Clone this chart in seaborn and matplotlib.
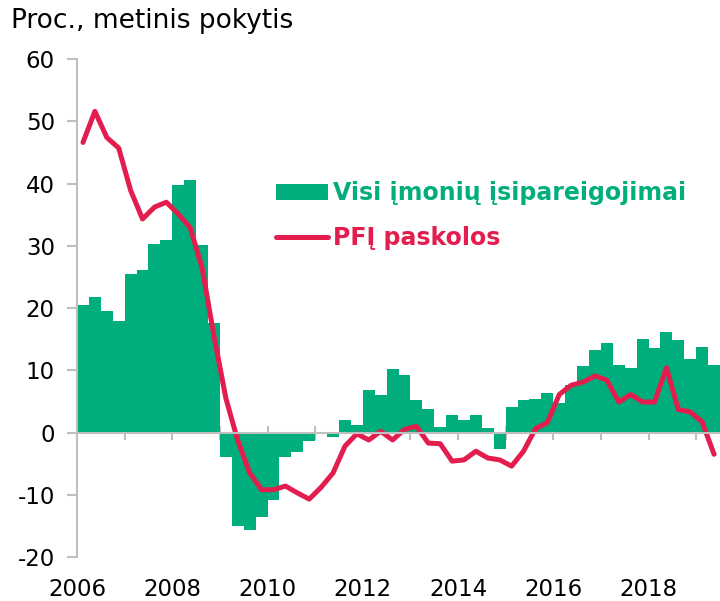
import numpy as np
import pandas as pd
import matplotlib
matplotlib.use("Agg")
import matplotlib.pyplot as plt
import seaborn as sns

sns.set_style("white")
plt.rcParams["font.family"] = ["DejaVu Sans"]
plt.rcParams["axes.unicode_minus"] = False

# Quarterly data, 2006Q1 - 2019Q2
quarters = pd.period_range("2006Q1", "2019Q2", freq="Q")

liabilities = [20.5, 21.8, 19.6, 17.9, 25.4, 26.1, 30.3, 31.0, 39.7, 40.6, 30.2, 17.6,
               -3.9, -15.0, -15.7, -13.6, -10.8, -3.9, -3.2, -1.3, 0.0, -0.8, 2.0, 1.2,
               6.9, 6.0, 10.2, 9.2, 5.2, 3.7, 0.9, 2.8, 2.0, 2.8, 0.7, -2.6,
               4.1, 5.2, 5.4, 6.4, 4.8, 7.6, 10.7, 13.3, 14.4, 10.9, 10.4, 15.1,
               13.5, 16.2, 14.8, 11.8, 13.7, 10.8]

mfi_loans = [46.6, 51.6, 47.4, 45.7, 38.9, 34.3, 36.2, 37.0, 35.1, 32.9, 26.5, 15.5,
             5.5, -1.3, -6.5, -9.2, -9.2, -8.6, -9.7, -10.7, -8.8, -6.5, -2.2, -0.2,
             -1.2, 0.2, -1.2, 0.5, 1.0, -1.7, -1.8, -4.6, -4.4, -3.0, -4.1, -4.4,
             -5.4, -3.0, 0.6, 1.6, 6.1, 7.6, 8.1, 9.1, 8.4, 4.9, 6.1, 4.9,
             4.9, 10.4, 3.7, 3.3, 1.7, -3.5]

year_ticks = list(range(2006, 2020))
label_bars = "Visi įmonių įsipareigojimai"
label_line = "PFĮ paskolos"

green = "#00AE7D"
red = "#E31E4F"
gray = "#BFBFBF"

df = pd.DataFrame({
    "t": quarters.year + (quarters.quarter - 1) / 4 + 0.125,
    "liab": liabilities,
    "loans": mfi_loans,
})

fig = plt.figure(figsize=(7.2, 6.01), dpi=100)
ax = fig.add_axes([0.107, 0.0732, 0.893, 0.8286])

sns.barplot(data=df, x="t", y="liab", native_scale=True, width=1, color=green,
            saturation=1, linewidth=0, errorbar=None, label=label_bars, ax=ax)
sns.lineplot(data=df, x="t", y="loans", color=red, linewidth=3.6,
             solid_capstyle="round", solid_joinstyle="round", label=label_line, ax=ax)

ax.set_xlim(2006, 2019.5)
ax.set_ylim(-20, 60)
ax.set_yticks(range(-20, 61, 10))
ax.set_xticks(year_ticks)
ax.set_xticklabels([str(y) if y % 2 == 0 else "" for y in year_ticks])
ax.set_xlabel("")
ax.set_ylabel("")

for s in ["top", "right"]:
    ax.spines[s].set_visible(False)
ax.spines["left"].set_color(gray)
ax.spines["left"].set_linewidth(1.5)
ax.spines["bottom"].set_color(gray)
ax.spines["bottom"].set_linewidth(1.5)
ax.spines["bottom"].set_position(("data", 0))

ax.tick_params(axis="x", direction="inout", length=10, width=1.5, color=gray,
               pad=100, labelsize=16.5, labelcolor="black", bottom=True)
ax.tick_params(axis="y", direction="out", length=7, width=1.5, color=gray,
               pad=9, labelsize=16.5, labelcolor="black", left=True)

handles, labels = ax.get_legend_handles_labels()
order = [labels.index(label_bars), labels.index(label_line)]
leg = ax.legend([handles[i] for i in order], [labels[i] for i in order],
                loc="upper left", bbox_to_anchor=(0.277, 0.797), frameon=False,
                prop={"weight": "bold", "size": 17}, handlelength=2.2,
                handletextpad=0.2, labelspacing=0.88, labelcolor=[green, red])

fig.text(0.015, 0.965, "Proc., metinis pokytis", fontsize=19, color="black",
         va="center", ha="left")

fig.savefig("out.png", dpi=100)
